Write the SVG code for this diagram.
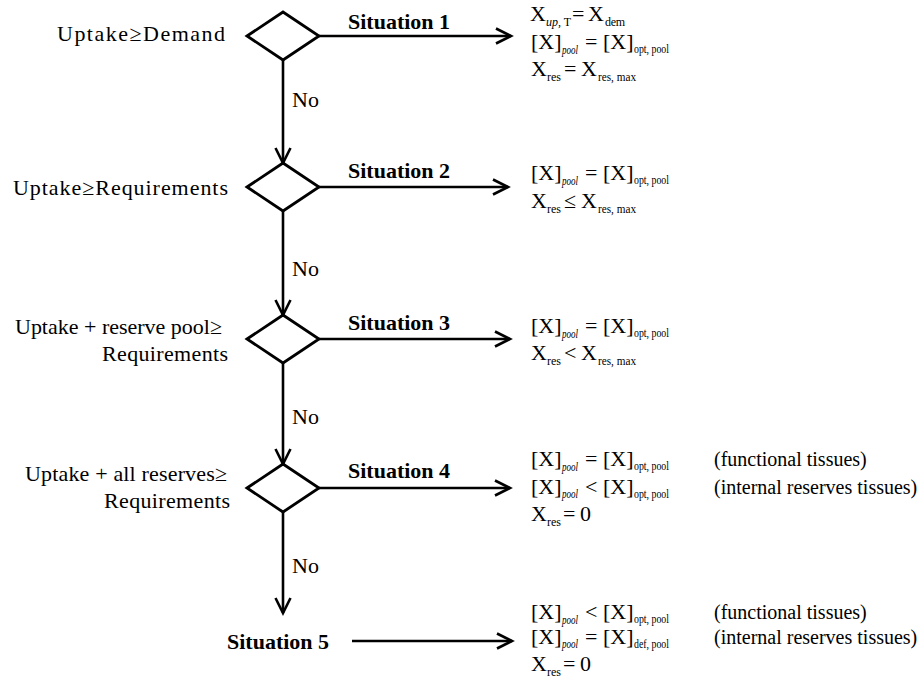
<svg xmlns="http://www.w3.org/2000/svg" width="921" height="679" viewBox="0 0 921 679">
<style>
.lbl{font-family:"Liberation Serif","Times New Roman",serif;font-size:22px;fill:#000}
.sit{font-family:"Liberation Serif","Times New Roman",serif;font-size:22px;font-weight:bold;fill:#000}
.eq{font-family:"Liberation Serif","Times New Roman",serif;font-size:22px;fill:#000}
.sb{font-family:"Liberation Serif","Times New Roman",serif;font-size:12px;fill:#000}
.it{font-style:italic}
.par{font-family:"Liberation Serif","Times New Roman",serif;font-size:20px;fill:#000}
.dia{fill:#fff;stroke:#000;stroke-width:2.8;stroke-linejoin:miter}
.con{fill:none;stroke:#000;stroke-width:2.6}
</style>
<defs>
<marker id="ah" markerUnits="userSpaceOnUse" viewBox="-18 -10 20 20" refX="0" refY="0" markerWidth="20" markerHeight="20" orient="auto" overflow="visible">
<path d="M-15,-7.5 L0,0 L-15,7.5" fill="none" stroke="#000" stroke-width="2.6"/>
</marker>
</defs>
<rect width="921" height="679" fill="#fff"/>

<g id="connectors">
<line class="con" x1="283" y1="60" x2="283" y2="163" marker-end="url(#ah)"/>
<line class="con" x1="283" y1="211" x2="283" y2="315" marker-end="url(#ah)"/>
<line class="con" x1="283" y1="363" x2="283" y2="464" marker-end="url(#ah)"/>
<line class="con" x1="283" y1="512" x2="283" y2="613" marker-end="url(#ah)"/>
<line class="con" x1="319" y1="36" x2="511" y2="36" marker-end="url(#ah)"/>
<line class="con" x1="319" y1="187" x2="508" y2="187" marker-end="url(#ah)"/>
<line class="con" x1="319" y1="339" x2="510" y2="339" marker-end="url(#ah)"/>
<line class="con" x1="319" y1="488" x2="510" y2="488" marker-end="url(#ah)"/>
<line class="con" x1="352" y1="641" x2="512" y2="641" marker-end="url(#ah)"/>
<text class="lbl" x="292" y="107">No</text>
<text class="lbl" x="292" y="276">No</text>
<text class="lbl" x="292" y="424">No</text>
<text class="lbl" x="292" y="573">No</text>
<text class="sit" x="348" y="29">Situation 1</text>
<text class="sit" x="348" y="178">Situation 2</text>
<text class="sit" x="348" y="330">Situation 3</text>
<text class="sit" x="348" y="478">Situation 4</text>
</g>

<g id="q1">
<polygon class="dia" points="247,36 283,12 319,36 283,60"/>
<text class="lbl" x="57" y="41" textLength="168" lengthAdjust="spacing">Uptake≥Demand</text>
</g>
<g id="q2">
<polygon class="dia" points="247,187 283,163 319,187 283,211"/>
<text class="lbl" x="13" y="195" textLength="215" lengthAdjust="spacing">Uptake≥Requirements</text>
</g>
<g id="q3">
<polygon class="dia" points="247,339 283,315 319,339 283,363"/>
<text class="lbl" x="15" y="334" textLength="207" lengthAdjust="spacing">Uptake + reserve pool≥</text>
<text class="lbl" x="102" y="361" textLength="126" lengthAdjust="spacing">Requirements</text>
</g>
<g id="q4">
<polygon class="dia" points="247,488 283,464 319,488 283,512"/>
<text class="lbl" x="25" y="481" textLength="202" lengthAdjust="spacing">Uptake + all reserves≥</text>
<text class="lbl" x="104" y="508" textLength="126" lengthAdjust="spacing">Requirements</text>
</g>
<g id="s5">
<text class="sit" x="227" y="649">Situation 5</text>
</g>

<g id="r1">
<text class="eq" x="530" y="21">X</text>
<text class="sb" x="546" y="26"><tspan class="it">up</tspan>, T</text>
<text class="eq" x="572" y="21">=</text>
<text class="eq" x="588" y="21">X</text>
<text class="sb" x="605" y="26" textLength="20">dem</text>
<text class="eq" x="531" y="49">[X]</text>
<text class="sb it" x="562" y="54" textLength="16" lengthAdjust="spacingAndGlyphs">pool</text>
<text class="eq" x="585" y="49">=</text>
<text class="eq" x="603" y="49">[X]</text>
<text class="sb" x="634" y="53" textLength="35" lengthAdjust="spacingAndGlyphs">opt, pool</text>
<text class="eq" x="531" y="76">X</text>
<text class="sb" x="547" y="81">res</text>
<text class="eq" x="564" y="76">=</text>
<text class="eq" x="581" y="76">X</text>
<text class="sb" x="598" y="81" textLength="38" lengthAdjust="spacingAndGlyphs">res, max</text>
</g>

<g id="r2">
<text class="eq" x="531" y="180">[X]</text>
<text class="sb it" x="562" y="185" textLength="16" lengthAdjust="spacingAndGlyphs">pool</text>
<text class="eq" x="585" y="180">=</text>
<text class="eq" x="603" y="180">[X]</text>
<text class="sb" x="634" y="184" textLength="35" lengthAdjust="spacingAndGlyphs">opt, pool</text>
<text class="eq" x="531" y="208">X</text>
<text class="sb" x="547" y="213">res</text>
<text class="eq" x="564" y="208">≤</text>
<text class="eq" x="581" y="208">X</text>
<text class="sb" x="598" y="213" textLength="38" lengthAdjust="spacingAndGlyphs">res, max</text>
</g>

<g id="r3">
<text class="eq" x="531" y="333">[X]</text>
<text class="sb it" x="562" y="338" textLength="16" lengthAdjust="spacingAndGlyphs">pool</text>
<text class="eq" x="585" y="333">=</text>
<text class="eq" x="603" y="333">[X]</text>
<text class="sb" x="634" y="337" textLength="35" lengthAdjust="spacingAndGlyphs">opt, pool</text>
<text class="eq" x="531" y="360">X</text>
<text class="sb" x="547" y="365">res</text>
<text class="eq" x="564" y="360">&lt;</text>
<text class="eq" x="581" y="360">X</text>
<text class="sb" x="598" y="365" textLength="38" lengthAdjust="spacingAndGlyphs">res, max</text>
</g>

<g id="r4">
<text class="eq" x="531" y="466">[X]</text>
<text class="sb it" x="562" y="471" textLength="16" lengthAdjust="spacingAndGlyphs">pool</text>
<text class="eq" x="585" y="466">=</text>
<text class="eq" x="603" y="466">[X]</text>
<text class="sb" x="634" y="470" textLength="35" lengthAdjust="spacingAndGlyphs">opt, pool</text>
<text class="par" x="714" y="466">(functional tissues)</text>
<text class="eq" x="531" y="494">[X]</text>
<text class="sb it" x="562" y="498" textLength="16" lengthAdjust="spacingAndGlyphs">pool</text>
<text class="eq" x="585" y="494">&lt;</text>
<text class="eq" x="603" y="494">[X]</text>
<text class="sb" x="634" y="498" textLength="35" lengthAdjust="spacingAndGlyphs">opt, pool</text>
<text class="par" x="714" y="494">(internal reserves tissues)</text>
<text class="eq" x="531" y="521">X</text>
<text class="sb" x="547" y="526">res</text>
<text class="eq" x="563" y="521">=</text>
<text class="eq" x="580" y="521">0</text>
</g>

<g id="r5">
<text class="eq" x="531" y="619">[X]</text>
<text class="sb it" x="562" y="624" textLength="16" lengthAdjust="spacingAndGlyphs">pool</text>
<text class="eq" x="585" y="619">&lt;</text>
<text class="eq" x="603" y="619">[X]</text>
<text class="sb" x="634" y="623" textLength="35" lengthAdjust="spacingAndGlyphs">opt, pool</text>
<text class="par" x="714" y="619">(functional tissues)</text>
<text class="eq" x="531" y="644">[X]</text>
<text class="sb it" x="562" y="648" textLength="16" lengthAdjust="spacingAndGlyphs">pool</text>
<text class="eq" x="585" y="644">=</text>
<text class="eq" x="603" y="644">[X]</text>
<text class="sb" x="634" y="648" textLength="35" lengthAdjust="spacingAndGlyphs">def, pool</text>
<text class="par" x="714" y="644">(internal reserves tissues)</text>
<text class="eq" x="531" y="671">X</text>
<text class="sb" x="547" y="676">res</text>
<text class="eq" x="563" y="671">=</text>
<text class="eq" x="580" y="671">0</text>
</g>
</svg>
